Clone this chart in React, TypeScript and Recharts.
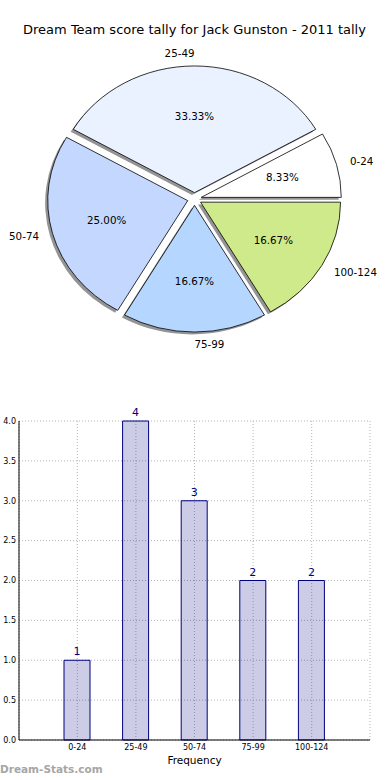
import React from 'react';
import { PieChart, Pie, Cell, BarChart, Bar, XAxis, YAxis, CartesianGrid, LabelList } from 'recharts';

const categories = ['0-24', '25-49', '50-74', '75-99', '100-124'];
const frequencies = [1, 4, 3, 2, 2];
const sliceColors = ['#ffffff', '#eaf2ff', '#c4d8ff', '#b5d6ff', '#cfea8a'];
const yTicks = [0, 0.5, 1, 1.5, 2, 2.5, 3, 3.5, 4];

const chartData = categories.map((name, i) => ({ name, value: frequencies[i] }));

const FONT = '"DejaVu Sans", Verdana, sans-serif';
const RAD = Math.PI / 180;
const ELLIPSE_K = 0.905;
const EXPLODE = 0.05;

function explodedOrigin(cx: number, cy: number, rx: number, ry: number, mid: number) {
  return [cx + EXPLODE * rx * Math.cos(mid * RAD), cy - EXPLODE * ry * Math.sin(mid * RAD)];
}

function renderSector(props: any) {
  const { cx, cy, outerRadius, startAngle, endAngle, fill } = props;
  const mid = (startAngle + endAngle) / 2;
  const rx = outerRadius;
  const ry = outerRadius * ELLIPSE_K;
  const [ox, oy] = explodedOrigin(cx, cy, rx, ry, mid);
  const x1 = ox + rx * Math.cos(startAngle * RAD);
  const y1 = oy - ry * Math.sin(startAngle * RAD);
  const x2 = ox + rx * Math.cos(endAngle * RAD);
  const y2 = oy - ry * Math.sin(endAngle * RAD);
  const large = Math.abs(endAngle - startAngle) > 180 ? 1 : 0;
  const d = `M${ox},${oy} L${x1},${y1} A${rx},${ry} 0 ${large} 0 ${x2},${y2} Z`;
  return (
    <g>
      <path d={d} transform="translate(-2.6,2.4)" fill="#000" fillOpacity={0.42} stroke="none" />
      <path d={d} fill={fill} stroke="#000" strokeWidth={0.8} />
    </g>
  );
}

function renderLabel(props: any) {
  const { cx, cy, outerRadius, startAngle, endAngle, percent, name } = props;
  const mid = (startAngle + endAngle) / 2;
  const rx = outerRadius;
  const ry = outerRadius * ELLIPSE_K;
  const [ox, oy] = explodedOrigin(cx, cy, rx, ry, mid);
  const c = Math.cos(mid * RAD);
  const s = Math.sin(mid * RAD);
  const px = ox + 0.6 * rx * c;
  const py = oy - 0.6 * ry * s;
  const lx = ox + 1.1 * rx * c;
  const ly = oy - 1.1 * ry * s;
  let anchor: 'start' | 'end' = c > 0 ? 'start' : 'end';
  if (Math.abs(c) < 1e-6) anchor = s > 0 ? 'end' : 'start';
  return (
    <g>
      <text x={px} y={py} dy="0.36em" textAnchor="middle" fontSize={10.3} fontFamily={FONT} fill="#000">
        {(percent * 100).toFixed(2)}%
      </text>
      <text x={lx} y={ly} dy="0.36em" textAnchor={anchor} fontSize={10.3} fontFamily={FONT} fill="#000">
        {name}
      </text>
    </g>
  );
}

export default function App() {
  return (
    <div style={{ position: 'absolute', left: 0, top: 0, width: 390, height: 780, background: '#fff', fontFamily: FONT }}>
      <div style={{ position: 'absolute', left: 0, top: 0 }}>
        <PieChart width={390} height={370} margin={{ top: 0, right: 0, bottom: 0, left: 0 }}>
          <Pie
            data={chartData}
            dataKey="value"
            nameKey="name"
            cx={194.5}
            cy={199}
            outerRadius={140}
            startAngle={0}
            endAngle={360}
            isAnimationActive={false}
            shape={renderSector}
            label={renderLabel}
            labelLine={false}
            stroke="#000"
          >
            {chartData.map((d, i) => (
              <Cell key={d.name} fill={sliceColors[i]} />
            ))}
          </Pie>
        </PieChart>
      </div>
      <div style={{ position: 'absolute', left: 0, top: 400 }}>
        <BarChart width={390} height={380} data={chartData} margin={{ top: 21, right: 20, bottom: 20, left: 0 }}>
          <CartesianGrid stroke="#b4b4b4" strokeDasharray="1 2" />
          <XAxis
            dataKey="name"
            padding={{ left: 29, right: 29 }}
            interval={0}
            height={20}
            tickLine={false}
            tickSize={0}
            tickMargin={4}
            axisLine={{ stroke: '#000' }}
            tick={{ fontSize: 8, fill: '#000', fontFamily: FONT }}
          />
          <XAxis
            xAxisId="top"
            orientation="top"
            dataKey="name"
            height={0}
            tick={false}
            tickLine={false}
            axisLine={{ stroke: '#000' }}
          />
          <YAxis
            domain={[0, 4]}
            ticks={yTicks}
            width={19}
            tickLine={false}
            tickSize={0}
            tickMargin={3}
            tickFormatter={(v: number) => v.toFixed(1)}
            axisLine={{ stroke: '#000' }}
            tick={{ fontSize: 8, fill: '#000', fontFamily: FONT }}
          />
          <YAxis
            yAxisId="right"
            orientation="right"
            domain={[0, 4]}
            width={0}
            tick={false}
            tickLine={false}
            axisLine={{ stroke: '#000' }}
          />
          <Bar dataKey="value" barSize={26} fill="#000080" fillOpacity={0.2} stroke="#000080" strokeWidth={1} isAnimationActive={false}>
            <LabelList dataKey="value" position="top" offset={5} fill="#000080" fontSize={11} fontFamily={FONT} />
          </Bar>
        </BarChart>
      </div>
      <svg width={390} height={780} style={{ position: 'absolute', left: 0, top: 0, pointerEvents: 'none' }}>
        <text x={194.5} y={34} textAnchor="middle" fontSize={13} fontFamily={FONT} fill="#000">
          Dream Team score tally for Jack Gunston - 2011 tally
        </text>
        <text x={194.5} y={764} textAnchor="middle" fontSize={10.5} fontFamily={FONT} fill="#000">
          Frequency
        </text>
        <text x={0} y={773} textAnchor="start" fontSize={10.5} fontFamily={FONT} fill="#a6a6a6" fontWeight="bold">
          Dream-Stats.com
        </text>
      </svg>
    </div>
  );
}
